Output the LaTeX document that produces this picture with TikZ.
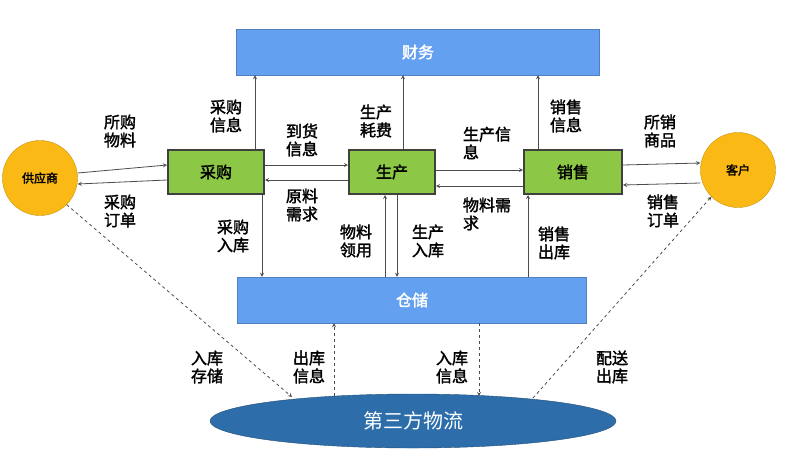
\documentclass[tikz,border=0pt]{standalone}
\usepackage{fontspec}
\setmainfont{Noto Sans CJK SC}[AutoFakeBold=2]
\usetikzlibrary{shapes.geometric}
\definecolor{boxblue}{RGB}{100,160,240}
\definecolor{boxgreen}{RGB}{140,200,70}
\definecolor{sunorange}{RGB}{250,185,20}
\definecolor{deepblue}{RGB}{45,110,170}
\begin{document}
\begin{tikzpicture}[x=1pt,y=-1pt,>=stealth,
  bar/.style={fill=boxblue,draw=boxblue!80!black,text=white,font=\bfseries\fontsize{16}{16}\selectfont,minimum height=46pt},
  dept/.style={fill=boxgreen,draw=black!75,line width=2pt,font=\bfseries\fontsize{16}{16}\selectfont,minimum height=44pt},
  party/.style={circle,fill=sunorange,draw=sunorange!80!black,minimum size=75pt,font=\bfseries\fontsize{12}{12}\selectfont},
  lbl/.style={font=\bfseries\fontsize{16}{18}\selectfont,align=left,inner sep=0pt},
  flow/.style={->,thick,black!70},
  dflow/.style={->,thick,dashed,black!70}]
\useasboundingbox (0,0) rectangle (800,451);
% 主体
\node[bar,minimum width=363pt] (cw) at (418,52) {财务};
\node[bar,minimum width=349pt] (cc) at (412,300) {仓储};
\node[dept,minimum width=96pt] (cg) at (216,172) {采购};
\node[dept,minimum width=86pt] (sc) at (392,172) {生产};
\node[dept,minimum width=98pt] (xs) at (573,172) {销售};
\node[party] (gy) at (40,178) {供应商};
\node[party] (kh) at (738,170) {客户};
\node[ellipse,fill=deepblue,draw=deepblue!70!black,minimum width=406pt,minimum height=54pt,text=white,font=\fontsize{20}{20}\selectfont] (wl) at (413,421) {第三方物流};
% 横向
\draw[flow] ([yshift=5pt]gy.east) -- ([yshift=7pt]cg.west);
\draw[flow] ([yshift=-8pt]cg.west) -- ([yshift=-6pt]gy.east);
\draw[flow] ([yshift=7pt]cg.east) -- ([yshift=7pt]sc.west);
\draw[flow] ([yshift=-8pt]sc.west) -- ([yshift=-8pt]cg.east);
\draw[flow] ([yshift=2pt]sc.east) -- ([yshift=2pt]xs.west);
\draw[flow] ([yshift=-14pt]xs.west) -- ([yshift=-14pt]sc.east);
\draw[flow] ([yshift=7pt]xs.east) -- ([yshift=7pt]kh.west);
\draw[flow] ([yshift=-13pt]kh.west) -- ([yshift=-13pt]xs.east);
% 纵向
\draw[flow] ([xshift=39pt]cg.north) -- ([xshift=39pt]cg.north |- cw.south);
\draw[flow] ([xshift=11pt]sc.north) -- ([xshift=11pt]sc.north |- cw.south);
\draw[flow] ([xshift=-35pt]xs.north) -- ([xshift=-35pt]xs.north |- cw.south);
\draw[flow] ([xshift=46pt]cg.south) -- ([xshift=46pt]cg.south |- cc.north);
\draw[flow] ([xshift=-7pt]sc.south |- cc.north) -- ([xshift=-7pt]sc.south);
\draw[flow] ([xshift=5pt]sc.south) -- ([xshift=5pt]sc.south |- cc.north);
\draw[flow] ([xshift=-45pt]xs.south |- cc.north) -- ([xshift=-45pt]xs.south);
% 物流
\draw[dflow] (gy.south east) -- (292,397);
\draw[dflow] (334,396) -- (334,396 |- cc.south);
\draw[dflow] (479,300 |- cc.south) -- (479,396);
\draw[dflow] (533,398) -- (kh.south west);
% 标签
\node[lbl] (l1) at (120,131) {所购\\物料};
\node[lbl] (l2) at (120,211) {采购\\订单};
\node[lbl] (l3) at (226,116) {采购\\信息};
\node[lbl] (l4) at (302,140) {到货\\信息};
\node[lbl] (l5) at (302,205) {原料\\需求};
\node[lbl] (l6) at (233,236) {采购\\入库};
\node[lbl] (l7) at (376,121) {生产\\耗费};
\node[lbl] (l8) at (356,241) {物料\\领用};
\node[lbl] (l9) at (428,241) {生产\\入库};
\node[lbl] (l10) at (487,143) {生产信\\息};
\node[lbl] (l11) at (487,214) {物料需\\求};
\node[lbl] (l12) at (566,116) {销售\\信息};
\node[lbl] (l13) at (554,243) {销售\\出库};
\node[lbl] (l14) at (660,131) {所销\\商品};
\node[lbl] (l15) at (663,211) {销售\\订单};
\node[lbl] (l16) at (207,367) {入库\\存储};
\node[lbl] (l17) at (309,367) {出库\\信息};
\node[lbl] (l18) at (452,367) {入库\\信息};
\node[lbl] (l19) at (612,367) {配送\\出库};
\end{tikzpicture}
\end{document}
